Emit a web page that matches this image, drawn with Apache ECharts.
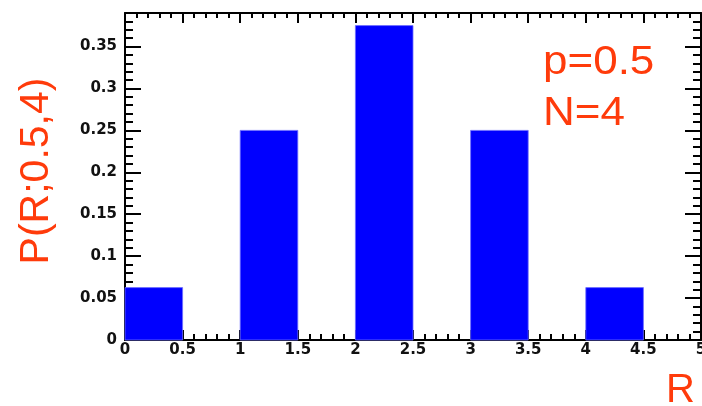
<!DOCTYPE html>
<html><head><meta charset="utf-8">
<script src="https://cdn.jsdelivr.net/npm/echarts@6/dist/echarts.min.js"></script>
<style>html,body{margin:0;padding:0;background:#fff}#c{width:702px;height:406px}</style>
</head><body><div id="c"></div>
<script>
const binLow = [0, 1, 2, 3, 4];
const binHigh = [0.5, 1.5, 2.5, 3.5, 4.5];
const prob = [0.0625, 0.25, 0.375, 0.25, 0.0625];
const xTicks = [0, 0.5, 1, 1.5, 2, 2.5, 3, 3.5, 4, 4.5, 5];
const yTicks = [0, 0.05, 0.1, 0.15, 0.2, 0.25, 0.3, 0.35];
const yTitle = 'P(R;0.5,4)';
const xTitle = 'R';
const annotLines = ['p=0.5', 'N=4'];

const RED = '#ff3b0b';
const LINE = { color: '#000', width: 2 };
const labelFont = { color: '#111', fontFamily: 'DejaVu Sans', fontWeight: 'bold', fontSize: 15 };

function xAx(pos, withLabels) {
  return {
    type: 'value', position: pos, min: 0, max: 5, interval: 0.5,
    axisLine: { show: true, onZero: false, lineStyle: LINE },
    axisTick: { show: true, inside: true, length: 10, lineStyle: LINE },
    minorTick: { show: true, splitNumber: 5, length: pos === 'top' ? 5 : 6, lineStyle: { color: '#000', width: 2 } },
    axisLabel: withLabels ? Object.assign({ show: true, margin: 3, customValues: xTicks, formatter: v => String(v) }, labelFont) : { show: false },
    splitLine: { show: false }
  };
}
function yMajor(pos, withLabels) {
  return {
    type: 'value', position: pos, min: 0, max: 0.39,
    axisLine: { show: true, onZero: false, lineStyle: LINE },
    axisTick: { show: true, inside: true, length: 16, customValues: yTicks, lineStyle: LINE },
    axisLabel: withLabels ? Object.assign({ show: true, margin: 8, customValues: yTicks, formatter: v => String(v) }, labelFont) : { show: false },
    splitLine: { show: false }
  };
}
function yMinor(pos) {
  return {
    type: 'value', position: pos, min: 0, max: 0.39, interval: 0.01,
    axisLine: { show: false, onZero: false },
    axisTick: { show: true, inside: true, length: 8, lineStyle: LINE },
    axisLabel: { show: false },
    splitLine: { show: false }
  };
}

const chart = echarts.init(document.getElementById('c'), null, { renderer: 'canvas' });
chart.setOption({
  animation: false,
  backgroundColor: '#fff',
  grid: { left: 125, right: 1, top: 13, bottom: 66, containLabel: false, outerBoundsMode: 'none' },
  xAxis: [xAx('bottom', true), xAx('top', false)],
  yAxis: [yMajor('left', true), yMinor('left'), yMajor('right', false), yMinor('right')],
  series: [{
    type: 'custom',
    xAxisIndex: 0, yAxisIndex: 0,
    data: binLow.map((lo, i) => [lo, binHigh[i], prob[i]]),
    renderItem: function (params, api) {
      const p0 = api.coord([api.value(0), 0]);
      const p1 = api.coord([api.value(1), api.value(2)]);
      return {
        type: 'rect',
        shape: { x: p0[0], y: p1[1], width: p1[0] - p0[0], height: p0[1] - p1[1] },
        style: { fill: '#0000ff', stroke: '#6f6fff', lineWidth: 0.8 }
      };
    },
    z: 1
  }],
  graphic: [
    { type: 'text', x: 37, y: 171, rotation: Math.PI / 2,
      style: { text: yTitle, fill: RED, font: '41px "Liberation Sans"', align: 'center', verticalAlign: 'middle' } },
    { type: 'text', x: 543, y: 63, scaleX: 1.1,
      style: { text: annotLines[0], fill: RED, font: '40px "Liberation Sans"', align: 'left', verticalAlign: 'middle' } },
    { type: 'text', x: 543, y: 114, scaleX: 1.1,
      style: { text: annotLines[1], fill: RED, font: '40px "Liberation Sans"', align: 'left', verticalAlign: 'middle' } },
    { type: 'text', x: 666, y: 391,
      style: { text: xTitle, fill: RED, font: '40px "Liberation Sans"', align: 'left', verticalAlign: 'middle' } }
  ]
});
</script>
</body></html>
